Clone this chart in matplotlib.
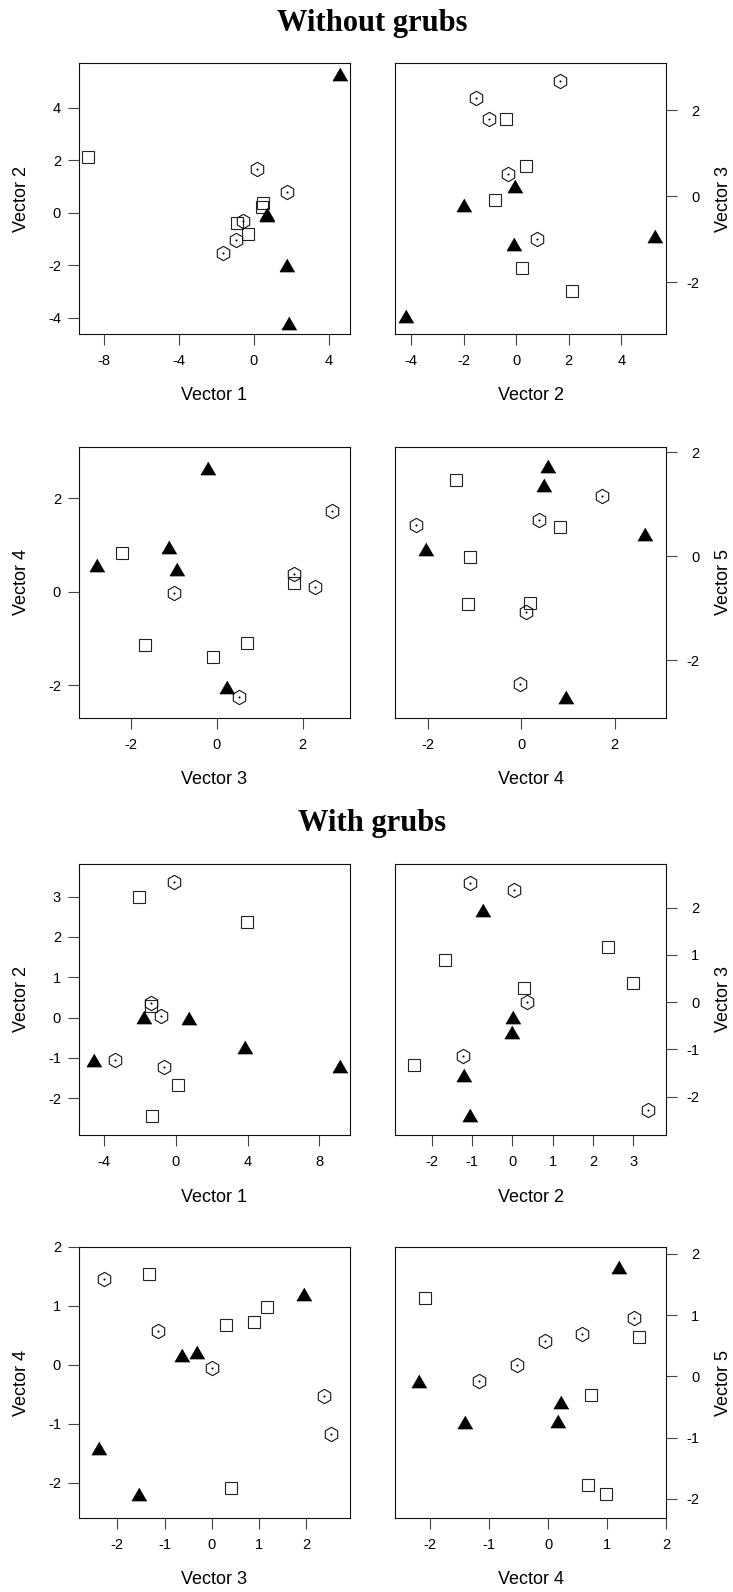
import matplotlib
matplotlib.use("Agg")
import matplotlib.pyplot as plt

plt.rcParams['axes.unicode_minus'] = False
plt.rcParams['font.family'] = ['Liberation Sans', 'DejaVu Sans']

# ---------------- Data: Without grubs ----------------
# triangles (filled)
wo_tri_v1 = [4.60, 1.80, 1.87, 0.69, 0.69]
wo_tri_v2 = [5.28, -2.00, -4.18, -0.06, -0.08]
wo_tri_v3 = [-0.93, -0.21, -2.79, 0.23, -1.10]
wo_tri_v4 = [0.48, 2.64, 0.57, -2.04, 0.96]
wo_tri_v5 = [1.36, 0.42, 1.74, 0.13, -2.71]
# hexagons (open with dot)
wo_hex_v1 = [0.20, 1.76, -0.55, -0.94, -1.65]
wo_hex_v2 = [1.66, 0.81, -0.30, -1.05, -1.53]
wo_hex_v3 = [2.68, -0.98, 0.52, 1.79, 2.29]
wo_hex_v4 = [1.72, -0.03, -2.25, 0.38, 0.11]
wo_hex_v5 = [1.16, -2.46, 0.61, 0.69, -1.07]
# squares (open)
wo_sq_v1 = [-8.82, 0.52, 0.43, -0.87, -0.28]
wo_sq_v2 = [2.13, 0.38, 0.23, -0.40, -0.79]
wo_sq_v3 = [-2.19, 0.70, -1.67, 1.80, -0.08]
wo_sq_v4 = [0.84, -1.10, -1.14, 0.19, -1.39]
wo_sq_v5 = [0.56, -0.01, -0.91, -0.90, 1.46]

# ---------------- Data: With grubs ----------------
w_tri_v1 = [-1.79, 0.71, 3.87, -4.60, 9.15]
w_tri_v2 = [0.02, -0.01, -0.73, -1.04, -1.21]
w_tri_v3 = [-0.32, -0.63, 1.95, -2.38, -1.54]
w_tri_v4 = [0.22, 0.16, 1.20, -1.42, -2.19]
w_tri_v5 = [-0.42, -0.73, 1.79, -0.75, -0.07]

w_hex_v1 = [-0.13, -1.41, -0.86, -3.40, -0.65]
w_hex_v2 = [3.36, 0.36, 0.04, -1.04, -1.22]
w_hex_v3 = [-2.29, 0.01, 2.37, 2.51, -1.14]
w_hex_v4 = [1.45, -0.06, -0.53, -1.17, 0.58]
w_hex_v5 = [0.96, 0.58, 0.19, -0.07, 0.69]

w_sq_v1 = [-2.05, 3.98, -1.41, 0.11, -1.32]
w_sq_v2 = [3.00, 2.36, 0.30, -1.66, -2.44]
w_sq_v3 = [0.40, 1.16, 0.30, 0.88, -1.34]
w_sq_v4 = [-2.09, 0.99, 0.68, 0.72, 1.54]
w_sq_v5 = [1.28, -1.92, -1.77, -0.30, 0.64]

axis_labels = ["Vector 1", "Vector 2", "Vector 3", "Vector 4", "Vector 5"]
titles = ["Without grubs", "With grubs"]

# ---------------- Layout / style ----------------
W, H = 733, 1592
fig = plt.figure(figsize=(W / 100, H / 100), dpi=100)

wo_sets = {
    'tri': [wo_tri_v1, wo_tri_v2, wo_tri_v3, wo_tri_v4, wo_tri_v5],
    'hex': [wo_hex_v1, wo_hex_v2, wo_hex_v3, wo_hex_v4, wo_hex_v5],
    'sq': [wo_sq_v1, wo_sq_v2, wo_sq_v3, wo_sq_v4, wo_sq_v5],
}
w_sets = {
    'tri': [w_tri_v1, w_tri_v2, w_tri_v3, w_tri_v4, w_tri_v5],
    'hex': [w_hex_v1, w_hex_v2, w_hex_v3, w_hex_v4, w_hex_v5],
    'sq': [w_sq_v1, w_sq_v2, w_sq_v3, w_sq_v4, w_sq_v5],
}

wo_lims = [(-9.32, 5.14), (-4.61, 5.70), (-3.20, 3.10), (-2.70, 3.10), (-3.11, 2.10)]
w_lims = [(-5.41, 9.71), (-2.91, 3.81), (-2.81, 2.92), (-2.60, 2.00), (-2.31, 2.11)]
wo_ticks = [[-8, -4, 0, 4], [-4, -2, 0, 2, 4], [-2, 0, 2], [-2, 0, 2], [-2, 0, 2]]
w_ticks = [[-4, 0, 4, 8], [-2, -1, 0, 1, 2, 3], [-2, -1, 0, 1, 2],
           [-2, -1, 0, 1, 2], [-2, -1, 0, 1, 2]]

tri_marker = [(0, 0.75), (-0.866, -0.75), (0.866, -0.75)]

# panel boxes in pixels: (left, top)
boxes = [
    (79, 63), (395, 63), (79, 447), (395, 447),
    (79, 864), (395, 864), (79, 1247), (395, 1247),
]
BW, BH = 271, 271


def panel(idx, sets, lims, ticks, i, right):
    left, top = boxes[idx]
    ax = fig.add_axes([left / W, 1 - (top + BH) / H, BW / W, BH / H])
    xi, yi = i, i + 1
    ax.plot(sets['sq'][xi], sets['sq'][yi], linestyle='none', marker='s',
            ms=8.8, mfc='none', mec='#222222', mew=0.8)
    ax.plot(sets['hex'][xi], sets['hex'][yi], linestyle='none', marker='h',
            ms=10.3, mfc='none', mec='#111111', mew=0.8)
    ax.plot(sets['hex'][xi], sets['hex'][yi], linestyle='none', marker='o',
            ms=1.5, mfc='black', mec='black', mew=0)
    ax.plot(sets['tri'][xi], sets['tri'][yi], linestyle='none', marker=tri_marker,
            ms=15 * 0.72, mfc='black', mec='black', mew=0.5)
    ax.set_xlim(*lims[xi])
    ax.set_ylim(*lims[yi])
    ax.set_xticks(ticks[xi])
    ax.set_yticks(ticks[yi])
    for s in ax.spines.values():
        s.set_linewidth(0.8)
        s.set_color('#111111')
    ax.tick_params(axis='x', direction='out', length=8, width=0.8, color='#444444',
                   labelsize=10.5, pad=6.5)
    if right:
        ax.yaxis.tick_right()
        ax.tick_params(axis='y', direction='out', length=8, width=0.8, color='#444444',
                       labelsize=10.5, pad=16)
        for lab in ax.get_yticklabels():
            lab.set_horizontalalignment('right')
        lx = 724
    else:
        ax.tick_params(axis='y', direction='out', length=8, width=0.8, color='#444444',
                       labelsize=10.5, pad=5)
        lx = 22
    cy = top + BH / 2
    fig.text(lx / W, 1 - cy / H, axis_labels[yi], rotation=90, ha='center',
             va='center', fontsize=13)
    fig.text((left + BW / 2) / W, 1 - (top + BH + 62) / H, axis_labels[xi],
             ha='center', va='center', fontsize=13)


for k in range(4):
    panel(k, wo_sets, wo_lims, wo_ticks, k, right=(k % 2 == 1))
    panel(k + 4, w_sets, w_lims, w_ticks, k, right=(k % 2 == 1))

fig.text(372.5 / W, 1 - 24 / H, titles[0], ha='center', va='center', fontsize=22,
         fontweight='bold', family=['Liberation Serif', 'DejaVu Serif'])
fig.text(372.5 / W, 1 - 824 / H, titles[1], ha='center', va='center', fontsize=22,
         fontweight='bold', family=['Liberation Serif', 'DejaVu Serif'])

fig.savefig("out.png", dpi=100)
